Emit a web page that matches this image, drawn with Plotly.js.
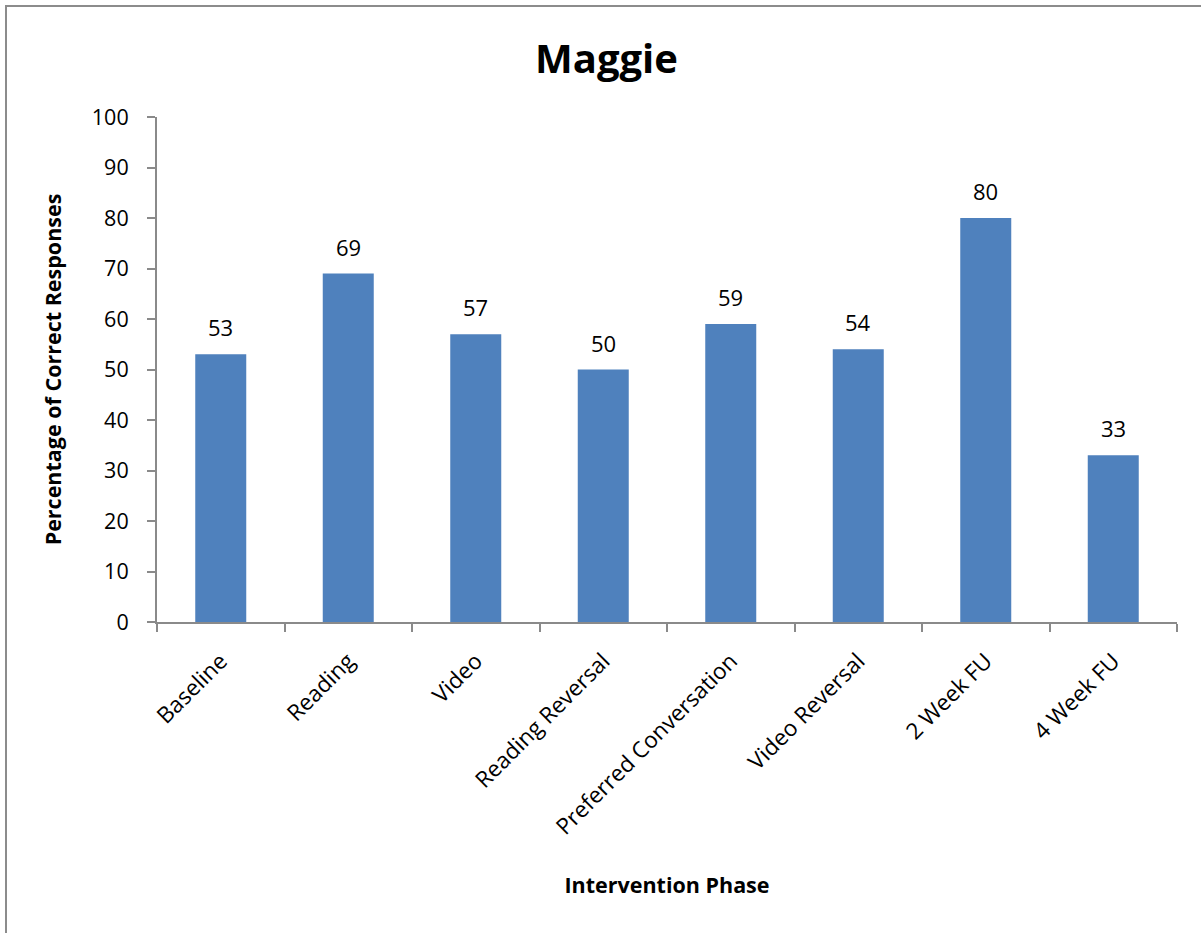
<!DOCTYPE html>
<html><head><meta charset="utf-8">
<script src="https://cdn.plot.ly/plotly-3.0.1.min.js"></script>
<style>
html,body{margin:0;padding:0;background:#fff;overflow:hidden;}
#frame{position:absolute;left:5px;top:5px;width:1220px;height:960px;border:2px solid #8c8c8c;pointer-events:none;z-index:10;}
#chart{width:1201px;height:933px;}
</style>
</head><body>
<div id="frame"></div>
<div id="chart"></div>
<script>
const categories = ["Baseline","Reading","Video","Reading Reversal","Preferred Conversation","Video Reversal","2 Week FU","4 Week FU"];
const values = [53,69,57,50,59,54,80,33];
const yTicks = [0,10,20,30,40,50,60,70,80,90,100];

const fontFam = "Open Sans, Liberation Sans, sans-serif";
const trace = {
  type: "bar",
  x: categories,
  y: values,
  marker: {color: "#4f81bd"},
  hoverinfo: "skip"
};
const annotations = categories.map((c, i) => ({
  x: c, y: values[i], xref: "x", yref: "y",
  text: String(values[i]), showarrow: false,
  yanchor: "middle", yshift: 27,
  font: {family: fontFam, size: 22, color: "#000"}
}));
const layout = {
  width: 1201, height: 933,
  margin: {l: 157, r: 24, t: 117, b: 311},
  paper_bgcolor: "#fff", plot_bgcolor: "#fff",
  bargap: 0.6,
  showlegend: false,
  annotations: annotations,
  font: {family: fontFam, color: "#000"},
  title: {text: "<b>Maggie</b>", font: {family: fontFam, size: 40, color: "#000"},
          x: 0.505, xref: "container", y: 0.937, yref: "container", yanchor: "middle"},
  xaxis: {
    type: "category",
    tickangle: -45,
    tickson: "boundaries",
    ticks: "outside", ticklen: 8, tickcolor: "#8a8a8a", tickwidth: 2,
    ticklabelstandoff: 15,
    showline: true, linecolor: "#8a8a8a", linewidth: 2,
    showgrid: false, zeroline: false,
    tickfont: {family: fontFam, size: 22.5, color: "#000"},
    title: {text: "<b>Intervention Phase</b>", font: {family: fontFam, size: 21.5, color: "#000"}, standoff: 38}
  },
  yaxis: {
    range: [0, 100],
    tickvals: yTicks,
    ticks: "outside", ticklen: 8, tickcolor: "#8a8a8a", tickwidth: 2,
    ticklabelstandoff: 14,
    showline: true, linecolor: "#8a8a8a", linewidth: 2,
    showgrid: false, zeroline: false,
    tickfont: {family: fontFam, size: 21.5, color: "#000"},
    title: {text: "<b>Percentage of Correct Responses</b>", font: {family: fontFam, size: 21.5, color: "#000"}, standoff: 24}
  }
};
Plotly.newPlot("chart", [trace], layout, {displayModeBar: false, staticPlot: true});
</script>
</body></html>
